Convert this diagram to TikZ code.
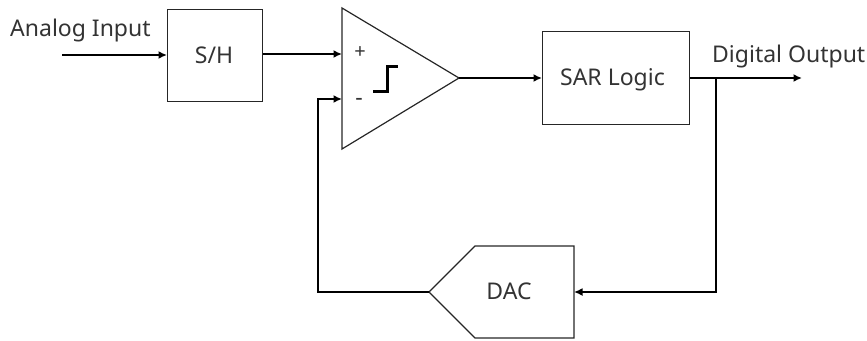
\documentclass[tikz,border=0pt]{standalone}
\usepackage{fontspec}
\setmainfont{Noto Sans}
\usetikzlibrary{arrows.meta}
\begin{document}
\begin{tikzpicture}[x=1pt,y=-1pt,
  blk/.style={draw=black!85,line width=1.2pt},
  wire/.style={draw=black,line width=1.8pt},
  arr/.style={wire,-{Latex[length=8.5pt,width=8pt]}},
  lbl/.style={inner sep=0pt,font=\fontsize{23}{26}\selectfont,text=black!80}]
\useasboundingbox (0,0) rectangle (867,340);
\node[blk,minimum width=95pt,minimum height=92pt,inner sep=0pt,anchor=north west] (sh) at (167,9) {};
\node[lbl] (shl) at (214,55) {S/H};
\node[blk,minimum width=147pt,minimum height=93pt,inner sep=0pt,anchor=north west] (sar) at (542,31) {};
\node[lbl] (sarl) at (612.5,80) {SAR Logic};
\coordinate (ct) at (342,8);
\coordinate (cb) at (342,149);
\coordinate (ca) at (459,78);
\draw[blk] (ct)--(ca)--(cb)--cycle;
\coordinate (dtl) at (475,246);
\coordinate (dtr) at (574,246);
\coordinate (dbr) at (574,338);
\coordinate (dbl) at (475,338);
\coordinate (dtip) at (429,292);
\draw[blk] (dtip)--(dtl)--(dtr)--(dbr)--(dbl)--cycle;
\node[lbl] (dac) at (509,291) {DAC};
\node[lbl,anchor=west] (ai) at (10,31) {Analog Input};
\node[lbl,anchor=west] (dout) at (712,57) {Digital Output};
\node[lbl,font=\fontsize{20}{22}\selectfont] (plus) at (360,53) {+};
\node[lbl,font=\fontsize{23}{24}\selectfont] (minus) at (359,102) {-};
\coordinate (ain) at (62,55);
\coordinate (cp) at (342,54);
\coordinate (cm) at (342,99);
\coordinate (out) at (802,78);
\coordinate (j) at (716,78);
\coordinate (jb) at (716,292);
\coordinate (fb) at (318,292);
\coordinate (fu) at (318,99);
\draw[arr] (ain)--(sh.west|-ain);
\draw[arr] (sh.east|-cp)--(cp);
\draw[arr] (ca)--(sar.west|-ca);
\draw[arr] (sar.east|-out)--(out);
\draw[arr] (j)--(jb)--(dtr|-jb);
\draw[arr] (dtip)--(fb)--(fu)--(cm);
\draw[line width=3pt,black] (373,91)--(387,91)--(387,66)--(398,66);
\end{tikzpicture}
\end{document}
